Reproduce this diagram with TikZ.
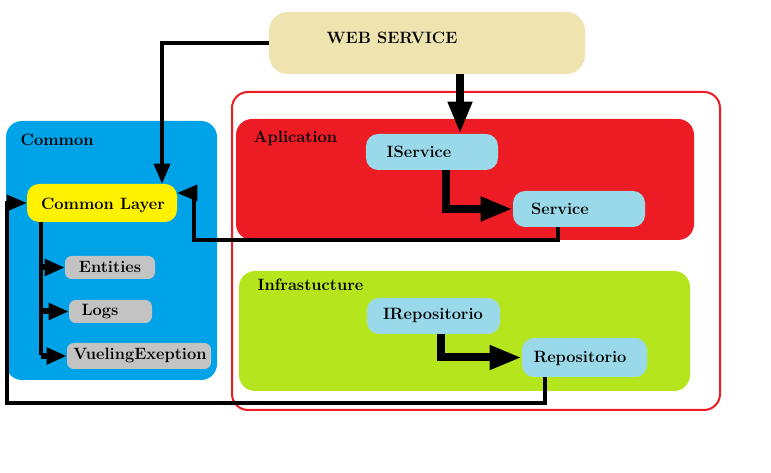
\documentclass[tikz,border=0pt]{standalone}
\usetikzlibrary{arrows.meta,fit}
\definecolor{wsbeige}{RGB}{239,228,176}
\definecolor{cmblue}{RGB}{0,162,232}
\definecolor{clyellow}{RGB}{255,242,0}
\definecolor{itgray}{RGB}{195,195,195}
\definecolor{apred}{RGB}{237,28,36}
\definecolor{svblue}{RGB}{153,217,234}
\definecolor{ifgreen}{RGB}{181,230,29}
\begin{document}
\begin{tikzpicture}[x=0.75pt,y=-0.75pt,
  box/.style={fill=#1, rounded corners=9pt, inner sep=0pt},
  lbl/.style={font=\fontsize{12.3}{14}\selectfont\bfseries},
  wire/.style={line width=2.5pt},
  fat/.style={line width=6pt, -{Triangle[length=24pt,width=17pt]}},
  tip/.style={line width=2.5pt, -{Triangle[length=15pt,width=12pt]}}]
  \useasboundingbox (0,0) rectangle (771,473);

  % --- WEB SERVICE ---
  \node[box=wsbeige, rounded corners=14pt, fit={(269,12) (585,74)}] (web) {};
  \node[lbl] (webtext) at (392,38) {WEB SERVICE};

  % --- core frame ---
  \node[draw=apred, line width=1.5pt, rounded corners=12pt, inner sep=0pt,
        fit={(232,92) (720,410)}] (core) {};

  % --- Common ---
  \node[box=cmblue, rounded corners=12pt, fit={(6,121) (217,380)}] (common) {};
  \node[lbl, anchor=west] (commontext) at (16,140) {Common};
  \node[box=clyellow, fit={(27,184) (177,222)}] (cl) {};
  \node[lbl] (cltext) at (103,205) {Common Layer};
  \node[box=itgray, rounded corners=5pt, fit={(65,256) (155,279)}] (entities) {};
  \node[lbl] (entitiestext) at (110,267) {Entities};
  \node[box=itgray, rounded corners=5pt, fit={(69,300) (152,323)}] (logs) {};
  \node[lbl] (logstext) at (100,312) {Logs};
  \node[box=itgray, rounded corners=5pt, fit={(67,343) (211,369)}] (vueling) {};
  \node[lbl] (vuelingtext) at (140,355) {VuelingExeption};

  % --- Aplication ---
  \node[box=apred, rounded corners=12pt, fit={(236,119) (694,240)}] (apl) {};
  \node[lbl, anchor=west] (apltext) at (249,138) {Aplication};
  \node[box=svblue, fit={(366,134) (498,170)}] (iservice) {};
  \node[lbl] (iservicetext) at (419,152) {IService};
  \node[box=svblue, fit={(513,191) (645,227)}] (service) {};
  \node[lbl] (servicetext) at (560,209) {Service};

  % --- Infrastucture ---
  \node[box=ifgreen, rounded corners=12pt, fit={(239,271) (690,391)}] (infra) {};
  \node[lbl, anchor=west] (infratext) at (253,285) {Infrastucture};
  \node[box=svblue, fit={(367,298) (500,334)}] (irepo) {};
  \node[lbl] (irepotext) at (433,315) {IRepositorio};
  \node[box=svblue, fit={(522,338) (647,377)}] (repo) {};
  \node[lbl] (repotext) at (580,358) {Repositorio};

  % --- connectors ---
  \draw[tip] (web.west) -| (cl.north -| 162,0);
  \draw[fat] (web.south -| 460,0) -- (iservice.north -| 460,0);
  \draw[fat] (iservice.south -| 446,0) |- (service.west);
  \draw[fat] (irepo.south -| 441,0) |- (repo.west);
  \draw[tip] (service.south -| 558,0) -- (558,240) -| (194,193) -- (cl.east |- 0,193);
  \draw[tip] (repo.south -| 545,0) -- (545,403) -| (7,203) -- (cl.west);

  % Common Layer branches
  \draw[wire] (cl.south -| 41,0) -- (41,355);
  \foreach \item in {entities, logs, vueling}
    \draw[tip, line width=4.5pt] (\item.west -| 41,0) -- (\item.west);
\end{tikzpicture}
\end{document}
